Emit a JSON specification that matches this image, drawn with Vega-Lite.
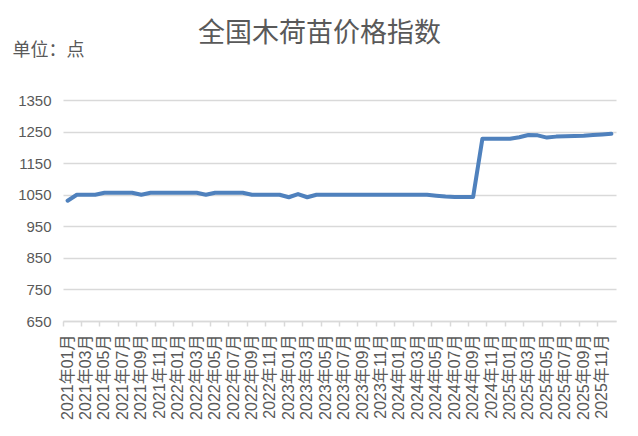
{
  "$schema": "https://vega.github.io/schema/vega-lite/v6.json",
  "autosize": "none",
  "width": 553,
  "height": 221,
  "padding": {"left": 63, "top": 100, "right": 22, "bottom": 115},
  "background": "white",
  "title": {
    "text": "全国木荷苗价格指数",
    "font": "Noto Sans CJK SC",
    "fontSize": 27,
    "fontWeight": "normal",
    "color": "#595959",
    "anchor": "middle",
    "dx": -20,
    "dy": 17,
    "offset": 10
  },
  "data": {
    "values": [
      {"month": "2021年01月", "index": 1031},
      {"month": "2021年02月", "index": 1050},
      {"month": "2021年03月", "index": 1050},
      {"month": "2021年04月", "index": 1050},
      {"month": "2021年05月", "index": 1056},
      {"month": "2021年06月", "index": 1056},
      {"month": "2021年07月", "index": 1056},
      {"month": "2021年08月", "index": 1056},
      {"month": "2021年09月", "index": 1050},
      {"month": "2021年10月", "index": 1056},
      {"month": "2021年11月", "index": 1056},
      {"month": "2021年12月", "index": 1056},
      {"month": "2022年01月", "index": 1056},
      {"month": "2022年02月", "index": 1056},
      {"month": "2022年03月", "index": 1056},
      {"month": "2022年04月", "index": 1050},
      {"month": "2022年05月", "index": 1056},
      {"month": "2022年06月", "index": 1056},
      {"month": "2022年07月", "index": 1056},
      {"month": "2022年08月", "index": 1056},
      {"month": "2022年09月", "index": 1050},
      {"month": "2022年10月", "index": 1050},
      {"month": "2022年11月", "index": 1050},
      {"month": "2022年12月", "index": 1050},
      {"month": "2023年01月", "index": 1042},
      {"month": "2023年02月", "index": 1052},
      {"month": "2023年03月", "index": 1042},
      {"month": "2023年04月", "index": 1050},
      {"month": "2023年05月", "index": 1050},
      {"month": "2023年06月", "index": 1050},
      {"month": "2023年07月", "index": 1050},
      {"month": "2023年08月", "index": 1050},
      {"month": "2023年09月", "index": 1050},
      {"month": "2023年10月", "index": 1050},
      {"month": "2023年11月", "index": 1050},
      {"month": "2023年12月", "index": 1050},
      {"month": "2024年01月", "index": 1050},
      {"month": "2024年02月", "index": 1050},
      {"month": "2024年03月", "index": 1050},
      {"month": "2024年04月", "index": 1050},
      {"month": "2024年05月", "index": 1047},
      {"month": "2024年06月", "index": 1044},
      {"month": "2024年07月", "index": 1043},
      {"month": "2024年08月", "index": 1043},
      {"month": "2024年09月", "index": 1043},
      {"month": "2024年10月", "index": 1227},
      {"month": "2024年11月", "index": 1227},
      {"month": "2024年12月", "index": 1227},
      {"month": "2025年01月", "index": 1227},
      {"month": "2025年02月", "index": 1232},
      {"month": "2025年03月", "index": 1239},
      {"month": "2025年04月", "index": 1238},
      {"month": "2025年05月", "index": 1231},
      {"month": "2025年06月", "index": 1234},
      {"month": "2025年07月", "index": 1235},
      {"month": "2025年08月", "index": 1236},
      {"month": "2025年09月", "index": 1237},
      {"month": "2025年10月", "index": 1239},
      {"month": "2025年11月", "index": 1241},
      {"month": "2025年12月", "index": 1243}
    ]
  },
  "mark": {"type": "line", "color": "#4F81BD", "strokeWidth": 4, "strokeCap": "round", "strokeJoin": "round"},
  "encoding": {
    "x": {
      "field": "month",
      "type": "ordinal",
      "scale": {"type": "band", "paddingInner": 0, "paddingOuter": 0},
      "axis": {
        "title": null,
        "bandPosition": 0,
        "values": ["2021年01月", "2021年03月", "2021年05月", "2021年07月", "2021年09月", "2021年11月",
                   "2022年01月", "2022年03月", "2022年05月", "2022年07月", "2022年09月", "2022年11月",
                   "2023年01月", "2023年03月", "2023年05月", "2023年07月", "2023年09月", "2023年11月",
                   "2024年01月", "2024年03月", "2024年05月", "2024年07月", "2024年09月", "2024年11月",
                   "2025年01月", "2025年03月", "2025年05月", "2025年07月", "2025年09月", "2025年11月"],
        "labelAngle": -90,
        "labelFont": "Liberation Sans, Noto Sans CJK SC",
        "labelFontSize": 16,
        "labelColor": "#595959",
        "labelPadding": 8,
        "labelOverlap": false,
        "domainColor": "#d9d9d9",
        "domainWidth": 1.5,
        "tickColor": "#d9d9d9",
        "tickWidth": 1.5,
        "tickSize": 5,
        "grid": false
      }
    },
    "y": {
      "field": "index",
      "type": "quantitative",
      "scale": {"domain": [650, 1350], "nice": false, "zero": false},
      "axis": {
        "values": [650, 750, 850, 950, 1050, 1150, 1250, 1350],
        "format": "d",
        "title": "单位：点",
        "titleAngle": 0,
        "titleAlign": "left",
        "titleBaseline": "middle",
        "titleX": -51,
        "titleY": -50,
        "titleFont": "Noto Sans CJK SC",
        "titleFontSize": 18,
        "titleFontWeight": "normal",
        "titleColor": "#595959",
        "labelFont": "Liberation Sans, Noto Sans CJK SC",
        "labelFontSize": 15,
        "labelColor": "#595959",
        "labelPadding": 12,
        "domain": false,
        "ticks": false,
        "gridColor": "#d9d9d9",
        "gridWidth": 1.5
      }
    }
  },
  "config": {"view": {"stroke": null}}
}
